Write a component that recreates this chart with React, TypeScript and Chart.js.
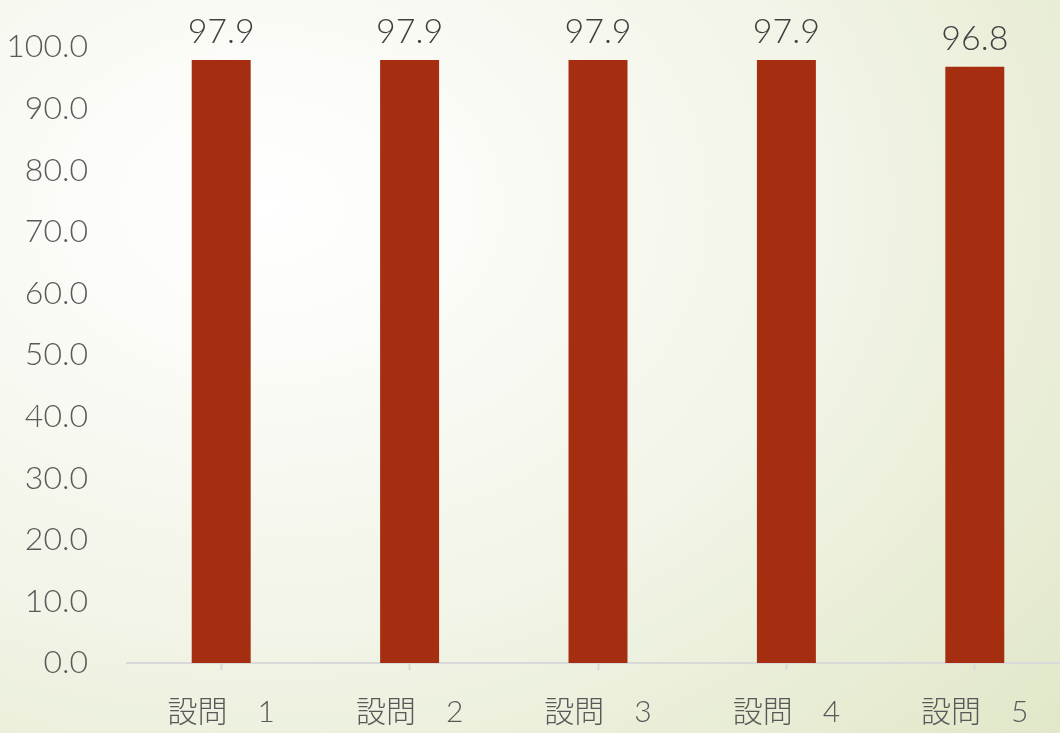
import React, { useEffect, useRef } from "react";
import { Chart, registerables } from "chart.js";

Chart.register(...registerables);

const categories = ["設問　1", "設問　2", "設問　3", "設問　4", "設問　5"];
const values = [97.9, 97.9, 97.9, 97.9, 96.8];
const yMin = 0;
const yMax = 100;
const yStep = 10;

const FONT = "Lato, 'Noto Sans CJK JP', sans-serif";

const valueLabels = {
  id: "valueLabels",
  afterDatasetsDraw(chart: any) {
    const ctx = chart.ctx;
    const meta = chart.getDatasetMeta(0);
    ctx.save();
    ctx.font = `300 34px ${FONT}`;
    ctx.fillStyle = "#404040";
    ctx.textAlign = "center";
    ctx.textBaseline = "alphabetic";
    meta.data.forEach((bar: any, i: number) => {
      const v = chart.data.datasets[0].data[i] as number;
      ctx.fillText(v.toFixed(1), bar.x, bar.y - 17);
    });
    ctx.restore();
  },
};

export default function App() {
  const ref = useRef<HTMLCanvasElement | null>(null);
  useEffect(() => {
    if (!ref.current) return;
    const chart = new Chart(ref.current, {
      type: "bar",
      data: {
        labels: categories,
        datasets: [
          {
            data: values,
            backgroundColor: "#a52e10",
            borderWidth: 0,
            categoryPercentage: 1,
            barPercentage: 0.313,
          },
        ],
      },
      options: {
        animation: false,
        responsive: false,
        layout: { padding: { top: 47, right: 11, left: 0, bottom: 0 } },
        plugins: { legend: { display: false }, tooltip: { enabled: false } },
        scales: {
          x: {
            grid: {
              display: true,
              offset: false,
              drawOnChartArea: false,
              drawTicks: true,
              tickLength: 7,
              tickWidth: 2,
              tickColor: "#d9d9d9",
            },
            border: { display: true, color: "#d9d9d9", width: 2 },
            ticks: {
              color: "#595959",
              font: { family: FONT, size: 30, weight: "300" },
              padding: 24,
              maxRotation: 0,
            },
            afterFit(axis: any) {
              axis.height = 70;
            },
          },
          y: {
            min: yMin,
            max: yMax,
            grid: { display: false, drawTicks: false },
            border: { display: false },
            ticks: {
              stepSize: yStep,
              color: "#595959",
              font: { family: FONT, size: 32, weight: "300" },
              padding: 39,
              callback: (v: any) => Number(v).toFixed(1),
            },
            afterFit(axis: any) {
              axis.width = 127;
              axis.paddingTop = 0;
              axis.paddingBottom = 0;
            },
          },
        },
      },
      plugins: [valueLabels],
    });
    return () => chart.destroy();
  }, []);
  return (
    <div
      style={{
        position: "fixed",
        left: 0,
        top: 0,
        width: 1060,
        height: 733,
        overflow: "hidden",
        background:
          "radial-gradient(ellipse 110% 120% at 25% 28%, #ffffff 0%, #fbfbf7 18%, #f1f4e6 50%, #e3e9cc 85%, #dfe6c6 100%)",
      }}
    >
      <canvas ref={ref} width={1080} height={733} style={{ display: "block" }} />
    </div>
  );
}
